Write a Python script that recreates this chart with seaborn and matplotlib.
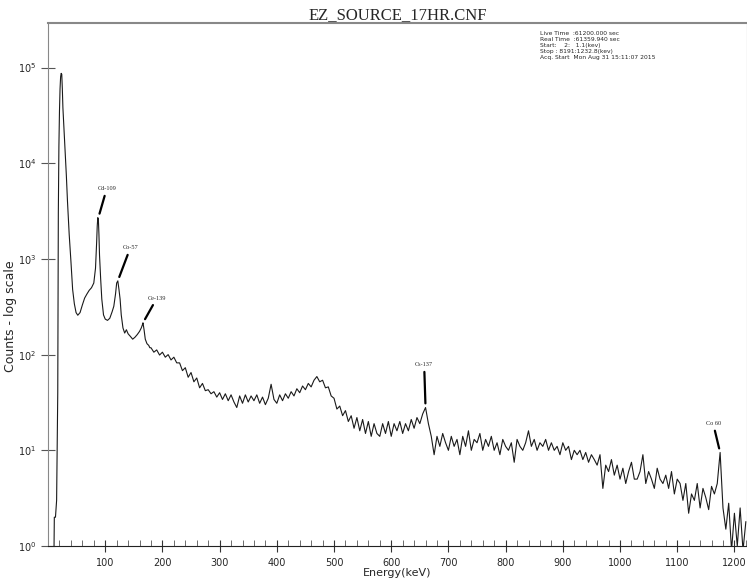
import numpy as np
import pandas as pd
import matplotlib
matplotlib.use("Agg")
import matplotlib.pyplot as plt
import seaborn as sns

# low-energy part, read point by point (keV, counts)
energy_low = [2, 10, 11, 13, 15, 17, 18, 19, 20, 21, 22, 23, 24, 25, 26, 28, 30, 32, 34, 37,
              40, 43, 46, 49, 52, 56, 60, 64, 68, 72, 76, 80, 83, 85, 86, 87, 88, 89, 90, 92,
              94, 97, 100, 104, 108, 112, 115, 118, 120, 122, 124, 126, 128, 131, 134, 137, 140, 144, 148, 152,
              156, 160, 163, 165, 166, 168, 170, 173, 176, 178]
counts_low = [0.5, 0.5, 2, 2, 3, 40, 3000, 15000, 35000, 60000, 80000, 87000, 85000, 60000, 38000, 22000, 13000, 7500, 4000, 1800,
              950, 480, 340, 275, 258, 275, 330, 390, 430, 470, 500, 560, 800, 1500, 2200, 2700, 2600, 1800, 1100, 620,
              380, 260, 235, 228, 240, 280, 320, 430, 560, 590, 480, 380, 260, 190, 168, 182, 165, 155, 145, 152,
              162, 175, 190, 205, 215, 180, 145, 130, 125, 118]

# 180 .. 1220 keV in 5 keV steps
energy_high = np.arange(180, 1221, 5)
counts_high = [
    118, 106, 112, 99, 106, 94, 100, 88, 94, 82,            # 180
    82, 68, 73, 58, 65, 52, 57, 45, 50, 42,                 # 230
    43, 39, 41, 36, 40, 34, 39, 33, 38, 32,                 # 280
    28, 37, 31, 38, 32, 37, 33, 38, 31, 36,                 # 330
    30, 35, 49, 34, 31, 38, 33, 39, 35, 41,                 # 380
    37, 44, 40, 47, 43, 50, 46, 54, 59, 52,                 # 430
    54, 45, 46, 37, 35, 27, 29, 23, 26, 20,                 # 480
    23, 17, 22, 16, 21, 15, 20, 14, 19, 15,                 # 530
    14, 19, 15, 20, 14, 19, 16, 20, 15, 19,                 # 580
    16, 21, 17, 22, 19, 24, 28, 19, 14, 9,                  # 630
    14, 11, 15, 12, 10, 14, 11, 13, 9, 14,                  # 680
    11, 16, 10, 13, 12, 15, 10, 13, 11, 14,                 # 730
    10, 12, 9, 13, 11, 10, 12, 7.5, 13, 11,                 # 780
    10, 12, 16, 11, 13, 10, 12, 11, 13, 10,                 # 830
    12, 10, 11, 9, 12, 10, 11, 8, 10, 9,                    # 880
    10, 8, 9.5, 7.5, 9, 8, 7, 9, 4, 7,                      # 930
    6, 8, 5.5, 7, 5, 6.5, 4.5, 6, 7.5, 5,                   # 980
    5, 6, 9, 4.5, 6, 5, 4, 6.5, 5, 4.5,                     # 1030
    5.5, 4, 6, 3.5, 5, 4.5, 3, 4.5, 2.2, 3.5,               # 1080
    3, 4.5, 2.5, 4, 3.2, 2.4, 4.2, 3.5, 4.5, 9.5,           # 1130
    2.5, 1.5, 2.8, 0.9, 2.2, 1.0, 2.5, 0.9, 1.8,            # 1180
]

peak_names = ["Cd-109", "Co-57", "Ce-139", "Cs-137", "Co 60"]
peak_energy = [88, 122, 166, 660, 1175]
peak_counts = [2700, 590, 215, 28, 9.5]
label_offsets = [(6, 19), (9, 22), (10, 16), (-1, 29), (-5, 19)]

info_lines = [
    "Live Time  :61200.000 sec",
    "Real Time  :61359.940 sec",
    "Start:    2:   1.1(kev)",
    "Stop : 8191:1232.8(kev)",
    "Acq. Start  Mon Aug 31 15:11:07 2015",
]

df = pd.DataFrame({
    "energy": np.concatenate([energy_low, energy_high]),
    "counts": np.concatenate([counts_low, counts_high]),
})

sns.set_style("ticks")
plt.rcParams["font.family"] = ["DejaVu Sans"]

fig = plt.figure(figsize=(7.47, 5.88), dpi=100)
ax = fig.add_axes([0.0643, 0.0714, 0.9357, 0.889])

sns.lineplot(data=df, x="energy", y="counts", estimator=None, sort=False,
             color="#1a1a1a", linewidth=0.8, ax=ax)
ax.set_yscale("log")
ax.set_xlim(0, 1222)
ax.set_ylim(1, 2.9e5)

ax.set_xticks(range(100, 1201, 100))
ax.set_xticks(range(0, 1221, 20), minor=True)
ax.set_yticks([1, 10, 100, 1e3, 1e4, 1e5])
ax.yaxis.set_minor_locator(matplotlib.ticker.NullLocator())
ax.tick_params(axis="x", which="major", direction="inout", length=9, width=0.8,
               labelsize=7, pad=4, color="#333333")
ax.tick_params(axis="x", which="minor", direction="in", length=4, width=0.6, color="#555555")
ax.tick_params(axis="y", which="major", direction="inout", length=10, width=0.8,
               labelsize=7, color="#555555")
for lab in ax.get_xticklabels() + ax.get_yticklabels():
    lab.set_family(["Liberation Sans Narrow", "DejaVu Sans"])

for s in ["left", "top", "right"]:
    ax.spines[s].set_color("#888888")
ax.spines["top"].set_linewidth(1.5)
ax.spines["bottom"].set_color("#222222")

ax.set_xlabel("Energy(keV)", fontsize=8, labelpad=0,
              family=["Liberation Sans Narrow", "DejaVu Sans"])
ax.set_ylabel("Counts - log scale", fontsize=9,
              family=["Liberation Sans Narrow", "DejaVu Sans"])
ax.yaxis.set_label_coords(-0.045, 0.44)

ax.set_title("EZ_SOURCE_17HR.CNF", fontsize=12, family="Liberation Serif", pad=3)

for name, e, c, off in zip(peak_names, peak_energy, peak_counts, label_offsets):
    ax.annotate(name, xy=(e, c), xytext=off, textcoords="offset points",
                ha="center", va="bottom", fontsize=4.5, family="Liberation Serif",
                arrowprops=dict(arrowstyle="-", lw=1.6, color="black",
                                shrinkA=1, shrinkB=3))

ax.text(0.704, 0.985, "\n".join(info_lines), transform=ax.transAxes,
        ha="left", va="top", fontsize=4.3, linespacing=1.25,
        family=["Liberation Sans Narrow", "DejaVu Sans"])

fig.savefig("out.png", dpi=100)
